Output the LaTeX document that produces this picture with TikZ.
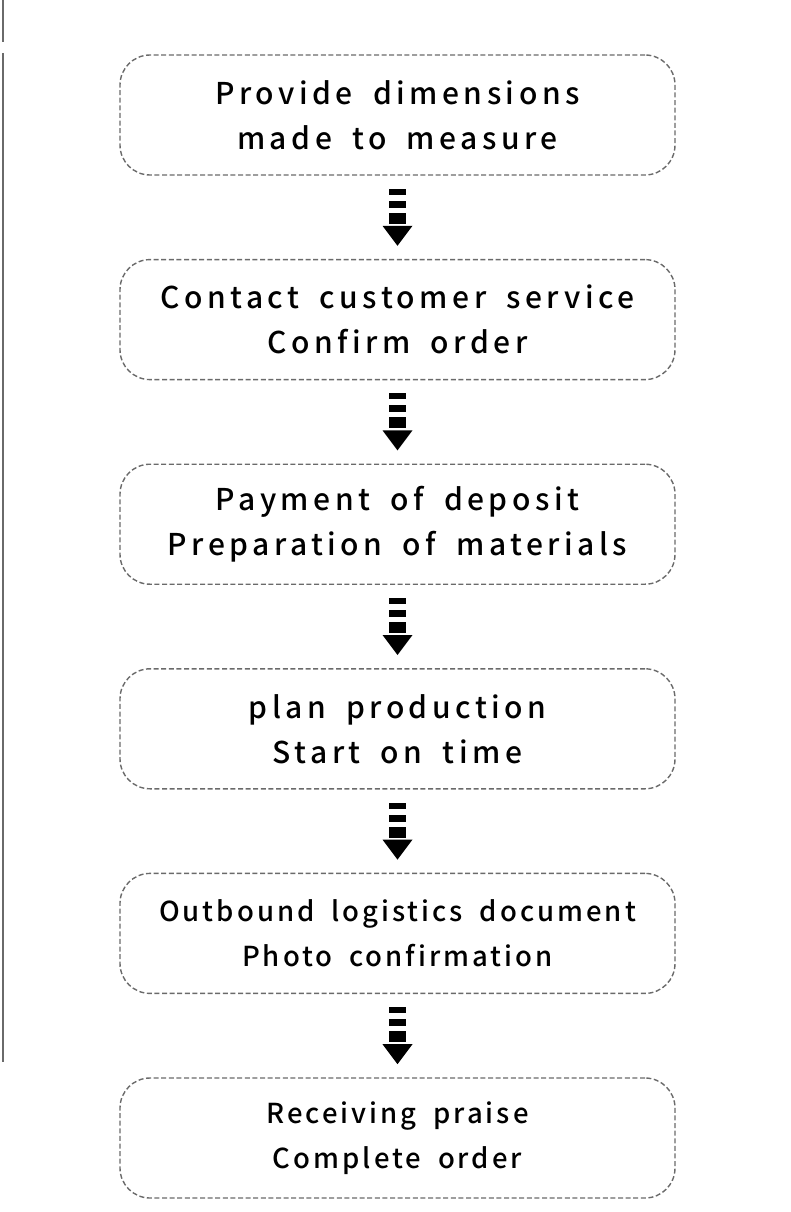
\documentclass[tikz,border=0pt]{standalone}
\usepackage{fontspec}
\setmainfont{Noto Sans CJK SC}[UprightFont=* Medium, WordSpace=1.8, Ligatures=NoCommon]
\usetikzlibrary{positioning,calc}
\definecolor{dashgray}{HTML}{6A6A6A}
\tikzset{
  stepbox/.style = {rectangle, rounded corners=30pt, draw=dashgray,
    line width=1.4pt, dash pattern=on 5pt off 2.6pt,
    minimum width=555pt, minimum height=120pt, align=center,
    font=\fontsize{30}{45}\selectfont\addfontfeatures{LetterSpace=15},
    text=black},% etape
  stepbox_s/.style = {stepbox,
    font=\fontsize{27.5}{45}\selectfont\addfontfeatures{LetterSpace=11}},% etape, texte serre
  downarrow/.pic = {% fleche pointillee
    \fill (-8.5,-28.5) rectangle (8.5,-22.5);
    \fill (-8.5,-16.5) rectangle (8.5,-9.5);
    \fill (-8.5,-4.5) rectangle (8.5,6.5);
    \fill (-15,8.5) -- (15,8.5) -- (0,28.5) -- cycle;
  }
}
\begin{document}
\begin{tikzpicture}[x=1pt,y=-1pt]
  \useasboundingbox (0,0) rectangle (790,1212);
  % trait a gauche
  \draw[dashgray, line width=1.2pt] (3,0) -- (3,42);
  \draw[dashgray, line width=1.2pt] (3,53) -- (3,1062);

  \node [stepbox] (s1) at (397.5,115) {Provide dimensions\\made to measure};
  \node [stepbox, below=83.2pt of s1] (s2) {Contact customer service\\Confirm order};
  \node [stepbox, below=83.2pt of s2] (s3) {Payment of deposit\\Preparation of materials};
  \node [stepbox, below=83.2pt of s3] (s4) {plan production\\Start on time};
  \node [stepbox_s, below=83.2pt of s4] (s5) {Outbound logistics document\\Photo confirmation};
  \node [stepbox_s, below=83.2pt of s5] (s6) {Receiving praise\\Complete order};

  \foreach \from/\to in {s1/s2,s2/s3,s3/s4,s4/s5,s5/s6}
    \path ($(\from.south)!0.5!(\to.north)$) pic {downarrow};
\end{tikzpicture}
\end{document}
